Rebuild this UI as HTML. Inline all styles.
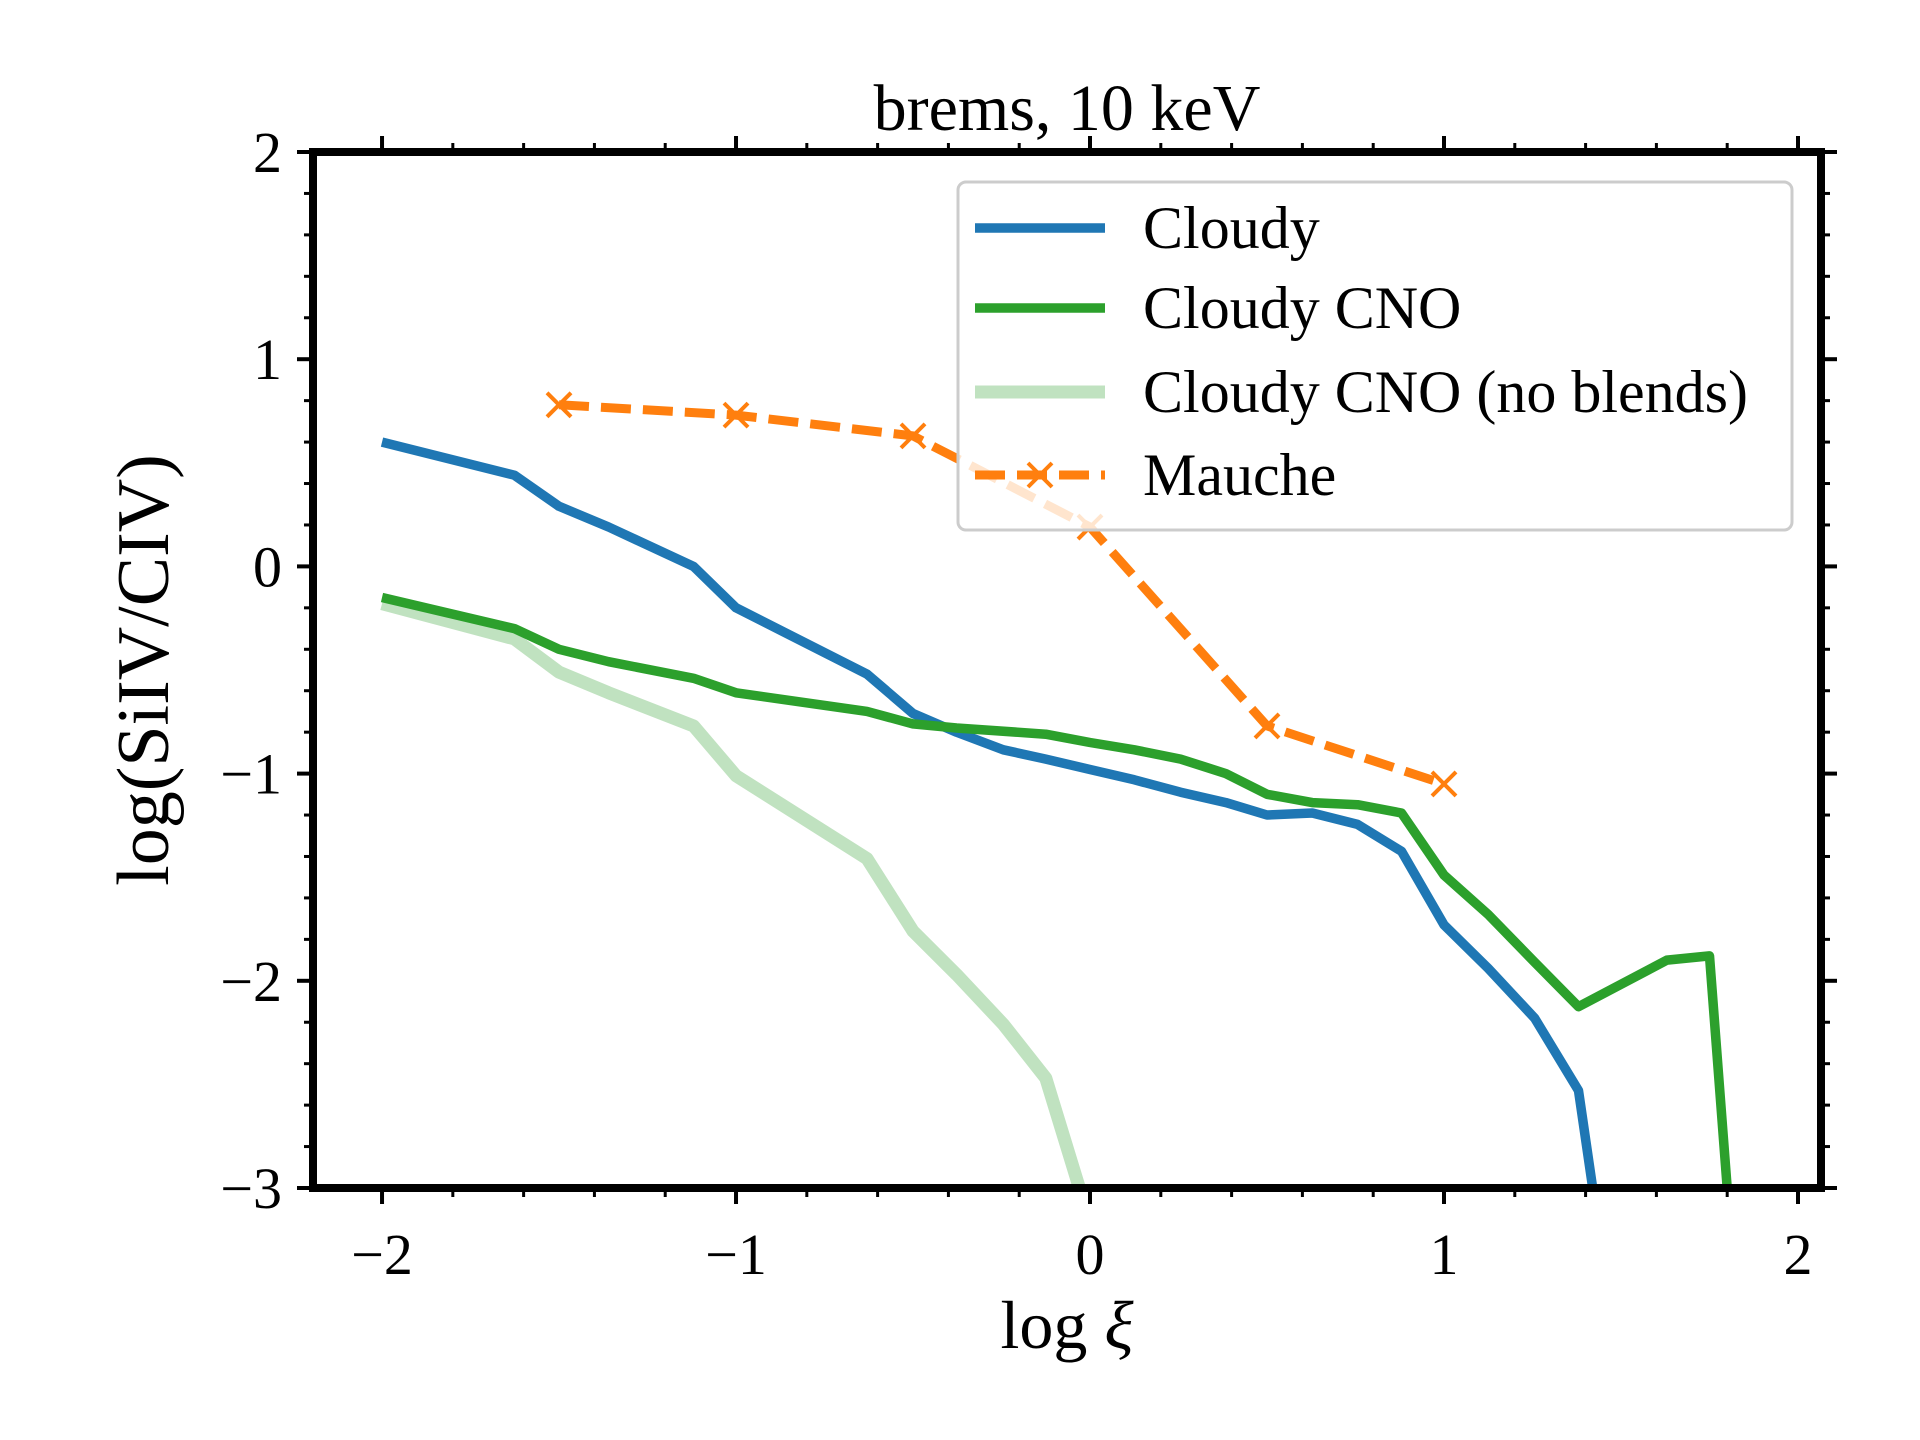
<!DOCTYPE html>
<html><head><meta charset="utf-8"><style>
html,body{margin:0;padding:0;background:#fff;}
svg{display:block;font-family:"Liberation Serif","DejaVu Serif",serif;}
</style></head><body>
<svg id="chart" width="1920" height="1440" viewBox="0 0 1920 1440" xmlns="http://www.w3.org/2000/svg">
<g id="plot"></g>
<text x="1067" y="130" font-size="66" text-anchor="middle">brems, 10 keV</text>
<text x="1067" y="1348" font-size="68" text-anchor="middle">log <tspan font-style="italic">ξ</tspan></text>
<text transform="translate(168,670) rotate(-90)" font-size="74" text-anchor="middle">log(SiIV/CIV)</text>
</svg>
<script>
const blueX=[-2,-1.626,-1.5,-1.36,-1.12,-1,-0.63,-0.5,-0.377,-0.245,-0.125,0,0.125,0.256,0.384,0.5,0.628,0.756,0.88,1,1.125,1.256,1.38,1.42];
const blueY=[0.60,0.44,0.29,0.19,0.0,-0.2,-0.52,-0.71,-0.80,-0.885,-0.93,-0.98,-1.03,-1.09,-1.14,-1.2,-1.19,-1.245,-1.375,-1.73,-1.94,-2.18,-2.53,-3.0];
const greenX=[-2,-1.626,-1.5,-1.36,-1.12,-1,-0.63,-0.5,-0.377,-0.125,0,0.125,0.256,0.384,0.5,0.628,0.756,0.88,1,1.125,1.256,1.38,1.63,1.75,1.8];
const greenY=[-0.15,-0.30,-0.40,-0.46,-0.54,-0.61,-0.70,-0.76,-0.78,-0.81,-0.85,-0.885,-0.93,-1.0,-1.1,-1.14,-1.15,-1.19,-1.49,-1.68,-1.91,-2.125,-1.90,-1.88,-3.0];
const lightX=[-2,-1.626,-1.5,-1.36,-1.12,-1,-0.63,-0.5,-0.377,-0.245,-0.125,-0.03];
const lightY=[-0.18,-0.35,-0.51,-0.61,-0.77,-1.01,-1.41,-1.76,-1.97,-2.21,-2.47,-3.0];
const maucheX=[-1.5,-1,-0.5,0,0.5,1];
const maucheY=[0.78,0.73,0.63,0.19,-0.77,-1.05];
const xTicks=[-2,-1,0,1,2];
const yTicks=[2,1,0,-1,-2,-3];
const xTickLabels=["−2","−1","0","1","2"];
const yTickLabels=["2","1","0","−1","−2","−3"];

const X0=313,X1=1821,Y0=152,Y1=1188;
const xmin=-2.195,xmax=2.065,ymin=-3,ymax=2;
const sx=v=>X0+(v-xmin)/(xmax-xmin)*(X1-X0);
const sy=v=>Y1-(v-ymin)/(ymax-ymin)*(Y1-Y0);
const NS="http://www.w3.org/2000/svg";
const plot=document.getElementById('plot');
function mk(tag,attrs,parent){const e=document.createElementNS(NS,tag);for(const k in attrs)e.setAttribute(k,attrs[k]);(parent||plot).appendChild(e);return e;}
const defs=mk('defs',{});
const cp=mk('clipPath',{id:'clip'},defs);
mk('rect',{x:X0,y:Y0,width:X1-X0,height:Y1-Y0},cp);
const gl=mk('g',{'clip-path':'url(#clip)'});


function pts(xs,ys){return xs.map((x,i)=>sx(x).toFixed(1)+','+sy(ys[i]).toFixed(1)).join(' ');}
let l;
l=mk('polyline',{points:pts(lightX,lightY),fill:'none',stroke:'#c0e2c0','stroke-width':13,'stroke-linejoin':'round'},gl);


l=mk('polyline',{points:pts(blueX,blueY),fill:'none',stroke:'#1f77b4','stroke-width':9.5,'stroke-linejoin':'round'},gl);


l=mk('polyline',{points:pts(greenX,greenY),fill:'none',stroke:'#2ca02c','stroke-width':9.5,'stroke-linejoin':'round'},gl);


l=mk('polyline',{points:pts(maucheX,maucheY),fill:'none',stroke:'#ff7f0e','stroke-width':9,'stroke-dasharray':'30,12'},gl);


function cross(cx,cy,g){const s=12;mk('path',{d:`M${cx-s},${cy-s}L${cx+s},${cy+s}M${cx-s},${cy+s}L${cx+s},${cy-s}`,stroke:'#ff7f0e','stroke-width':4,fill:'none'},g);}
maucheX.forEach((x,i)=>{const g=mk('g',{},gl);cross(sx(x),sy(maucheY[i]),g);});
const tg=mk('g',{stroke:'#000','stroke-width':3});


for(let v=-2.2;v<=2.06;v+=0.2){const vv=Math.round(v*10)/10;if(vv<xmin||vv>xmax)continue;const major=Math.abs(vv-Math.round(vv))<1e-6;const L=major?16:9;const x=sx(vv);
 mk('line',{x1:x,x2:x,y1:Y1,y2:Y1+L,'stroke-width':major?4:3},tg);mk('line',{x1:x,x2:x,y1:Y0,y2:Y0-L,'stroke-width':major?4:3},tg);}
for(let v=-3;v<=2.001;v+=0.2){const vv=Math.round(v*10)/10;const major=Math.abs(vv-Math.round(vv))<1e-6;const L=major?16:9;const y=sy(vv);
 mk('line',{x1:X0,x2:X0-L,y1:y,y2:y,'stroke-width':major?4:3},tg);mk('line',{x1:X1,x2:X1+L,y1:y,y2:y,'stroke-width':major?4:3},tg);}
xTicks.forEach((v,i)=>{const t=mk('text',{x:sx(v),y:1274,'font-size':58,'text-anchor':'middle'});t.textContent=xTickLabels[i];});
yTicks.forEach((v,i)=>{const t=mk('text',{x:282,y:sy(v)+20,'font-size':58,'text-anchor':'end'});t.textContent=yTickLabels[i];});
const sp=mk('rect',{x:X0,y:Y0,width:X1-X0,height:Y1-Y0,fill:'none',stroke:'#000','stroke-width':8});


const lg=mk('g',{});


mk('rect',{x:958,y:182,width:834,height:348,rx:8,fill:'rgba(255,255,255,0.8)',stroke:'#cccccc','stroke-width':3},lg);
const entries=[["Cloudy","#1f77b4",9.5,null,false],["Cloudy CNO","#2ca02c",9.5,null,false],["Cloudy CNO (no blends)","#c0e2c0",13,null,false],["Mauche","#ff7f0e",9,'30,12',true]];
const ey=[228,308,392,475];
entries.forEach((e,i)=>{const g=mk('g',{},lg);
 const a={x1:975,x2:1105,y1:ey[i],y2:ey[i],stroke:e[1],'stroke-width':e[2]};if(e[3])a['stroke-dasharray']=e[3];mk('line',a,g);
 if(e[4]){const c=mk('g',{},g);cross(1040,ey[i],c);}
 const t=mk('text',{x:1143,y:ey[i]+20,'font-size':60},g);t.textContent=e[0];});
</script>
</body></html>
